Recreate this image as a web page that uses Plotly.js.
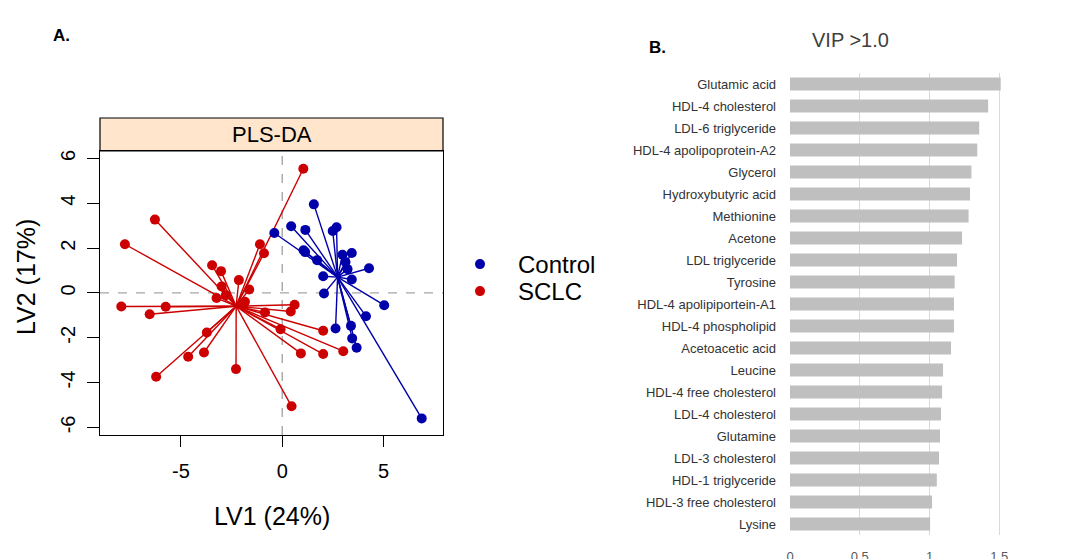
<!DOCTYPE html>
<html><head><meta charset="utf-8">
<script src="https://cdn.plot.ly/plotly-3.0.1.min.js"></script>
<style>html,body{margin:0;padding:0;background:#fff}#chart{width:1066px;height:559px}</style>
</head><body><div id="chart"></div>
<script>
// ---- Panel A: PLS-DA scores ----
const controlLV1 = [-0.39, 0.44, 1.14, 1.56, 2.49, 2.68, 1.13, 1.05, 1.72, 2.97, 3.43, 3.12, 3.22, 4.28, 2.02, 3.43, 2.06, 5.03, 4.13, 2.63, 3.39, 3.45, 3.67, 6.88];
const controlLV2 = [2.67, 2.97, 2.81, 3.95, 2.76, 2.93, 1.82, 1.90, 1.46, 1.70, 1.78, 1.38, 1.06, 1.10, 0.74, 0.60, -0.03, -0.55, -1.04, -1.59, -1.47, -2.03, -2.45, -5.60];
const sclcLV1 = [-7.76, -6.28, -7.94, -5.75, -6.54, -3.72, -4.64, -3.86, -6.22, -2.28, 0.46, 1.04, -1.10, -0.90, -3.46, -3.02, -2.14, -1.63, -2.99, -2.78, -3.24, -1.84, -1.94, 0.61, 0.42, -0.85, -0.08, 2.02, 3.01, 2.02, 0.92];
const sclcLV2 = [2.17, 3.27, -0.61, -0.62, -0.95, -1.77, -2.85, -2.66, -3.74, -3.40, -5.06, 5.54, 2.17, 1.77, 1.23, 0.97, 0.57, 0.15, 0.29, -0.10, -0.23, -0.40, -0.56, -0.53, -0.83, -0.87, -1.62, -1.69, -2.60, -2.73, -2.70];
const groupNames = ['Control', 'SCLC'];
const scatterTicksX = [-5, 0, 5];
const scatterTicksY = [-6, -4, -2, 0, 2, 4, 6];

// ---- Panel B: VIP scores ----
const vipNames = ['Glutamic acid', 'HDL-4 cholesterol', 'LDL-6 triglyceride', 'HDL-4 apolipoprotein-A2', 'Glycerol', 'Hydroxybutyric acid', 'Methionine', 'Acetone', 'LDL triglyceride', 'Tyrosine', 'HDL-4 apolipiportein-A1', 'HDL-4 phospholipid', 'Acetoacetic acid', 'Leucine', 'HDL-4 free cholesterol', 'LDL-4 cholesterol', 'Glutamine', 'LDL-3 cholesterol', 'HDL-1 triglyceride', 'HDL-3 free cholesterol', 'Lysine'];
const vipValues = [1.51, 1.42, 1.356, 1.342, 1.30, 1.29, 1.28, 1.233, 1.197, 1.18, 1.175, 1.175, 1.154, 1.097, 1.09, 1.082, 1.075, 1.068, 1.052, 1.018, 1.004];
const vipTicks = [0, 0.5, 1, 1.5, 2];
const vipTickLabels = ['0', '0.5', '1', '1.5', '2'];

const BLUE = '#0000AA', RED = '#CC0000';
function mean(a) { return a.reduce((s, v) => s + v, 0) / a.length; }
function spokes(xs, ys) {
  const cx = mean(xs), cy = mean(ys), x = [], y = [];
  xs.forEach((v, i) => { x.push(cx, v, null); y.push(cy, ys[i], null); });
  return { x, y };
}
const cS = spokes(controlLV1, controlLV2), sS = spokes(sclcLV1, sclcLV2);

const traces = [
  { type: 'scatter', mode: 'lines', x: cS.x, y: cS.y, line: { color: BLUE, width: 1.4 }, showlegend: false, hoverinfo: 'skip', xaxis: 'x', yaxis: 'y' },
  { type: 'scatter', mode: 'lines', x: sS.x, y: sS.y, line: { color: RED, width: 1.4 }, showlegend: false, hoverinfo: 'skip', xaxis: 'x', yaxis: 'y' },
  { type: 'scatter', mode: 'markers', name: groupNames[0], x: controlLV1, y: controlLV2, marker: { color: BLUE, size: 10 }, xaxis: 'x', yaxis: 'y', legend: 'legend' },
  { type: 'scatter', mode: 'markers', name: groupNames[1], x: sclcLV1, y: sclcLV2, marker: { color: RED, size: 10 }, xaxis: 'x', yaxis: 'y', legend: 'legend2' },
  { type: 'bar', orientation: 'h', x: vipValues, y: vipNames, marker: { color: '#BFBFBF' }, showlegend: false, xaxis: 'x2', yaxis: 'y2' }
];

const W = 1066, H = 559;
const px = v => v / W, py = v => (H - v) / H;
const AFONT = 'Liberation Sans, Arial, sans-serif';
const BFONT = 'Liberation Sans, Arial, sans-serif';
const legBase = { xanchor: 'left', yanchor: 'top', font: { family: AFONT, size: 24, color: '#000' }, itemwidth: 66, bgcolor: 'rgba(0,0,0,0)' };

const layout = {
  width: W, height: H,
  margin: { l: 0, r: 0, t: 0, b: 0 },
  paper_bgcolor: '#fff', plot_bgcolor: '#fff',
  showlegend: true,
  legend: Object.assign({ x: px(442), y: py(242) }, legBase),
  legend2: Object.assign({ x: px(442), y: py(269) }, legBase),
  xaxis: {
    domain: [px(100), px(443)], range: [-8.99, 7.93], anchor: 'y',
    tickvals: scatterTicksX, ticktext: scatterTicksX.map(String), ticks: 'outside', ticklen: 11, tickcolor: '#000',
    showline: true, mirror: true, linecolor: '#000', linewidth: 1.2, showgrid: false, zeroline: false,
    tickfont: { family: AFONT, size: 20, color: '#000' }, ticklabelstandoff: 7
  },
  yaxis: {
    domain: [py(435), py(151)], range: [-6.34, 6.33], anchor: 'x',
    tickvals: scatterTicksY, ticktext: scatterTicksY.map(String), ticks: 'outside', ticklen: 12, tickcolor: '#000', tickangle: -90,
    showline: true, mirror: true, linecolor: '#000', linewidth: 1.2, showgrid: false, zeroline: false,
    tickfont: { family: AFONT, size: 20, color: '#000' }, ticklabelstandoff: 4
  },
  xaxis2: {
    domain: [px(790), 1], range: [0, 1.978], anchor: 'y2',
    tickvals: vipTicks, ticktext: vipTickLabels, ticks: '', showgrid: true, gridcolor: '#D9D9D9', gridwidth: 1,
    showline: false, zeroline: false, tickfont: { family: BFONT, size: 13, color: '#595959' }, ticklabelstandoff: 12
  },
  yaxis2: {
    domain: [py(535), py(73)], anchor: 'x2', autorange: 'reversed', type: 'category',
    ticks: '', showgrid: false, showline: false, zeroline: false,
    tickfont: { family: BFONT, size: 13, color: '#333333' }, ticklabelstandoff: 13
  },
  bargap: 0.4,
  shapes: [
    { type: 'rect', xref: 'paper', yref: 'paper', x0: px(100), x1: px(443), y0: py(151), y1: py(118), fillcolor: '#FFE5CC', line: { color: '#000', width: 1.2 }, layer: 'below' },
    { type: 'line', xref: 'x', yref: 'y domain', x0: 0, x1: 0, y0: 0, y1: 1, line: { color: '#A6A6A6', width: 1.4, dash: 'dash' }, layer: 'below' },
    { type: 'line', xref: 'x domain', yref: 'y', x0: 0, x1: 1, y0: 0, y1: 0, line: { color: '#A6A6A6', width: 1.4, dash: 'dash' }, layer: 'below' }
  ],
  annotations: [
    { text: 'PLS-DA', xref: 'paper', yref: 'paper', x: px(271.5), y: py(134.5), xanchor: 'center', yanchor: 'middle', showarrow: false, font: { family: AFONT, size: 22, color: '#000' } },
    { text: 'LV1 (24%)', xref: 'paper', yref: 'paper', x: px(271.5), y: py(516), xanchor: 'center', yanchor: 'middle', showarrow: false, font: { family: AFONT, size: 25, color: '#000' } },
    { text: 'LV2 (17%)', xref: 'paper', yref: 'paper', x: px(26), y: py(277), xanchor: 'center', yanchor: 'middle', textangle: -90, showarrow: false, font: { family: AFONT, size: 25, color: '#000' } },
    { text: '<b>A.</b>', xref: 'paper', yref: 'paper', x: px(51), y: py(36), xanchor: 'left', yanchor: 'middle', showarrow: false, font: { family: AFONT, size: 17, color: '#000' } },
    { text: '<b>B.</b>', xref: 'paper', yref: 'paper', x: px(647), y: py(47), xanchor: 'left', yanchor: 'middle', showarrow: false, font: { family: AFONT, size: 17, color: '#000' } },
    { text: 'VIP >1.0', xref: 'paper', yref: 'paper', x: px(850), y: py(40), xanchor: 'center', yanchor: 'middle', showarrow: false, font: { family: BFONT, size: 20, color: '#404040' } }
  ]
};

Plotly.newPlot('chart', traces, layout, { displayModeBar: false, staticPlot: true });
</script>
</body></html>
